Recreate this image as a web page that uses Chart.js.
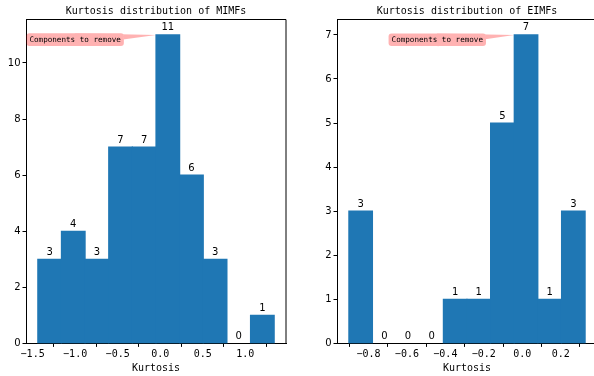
<!DOCTYPE html>
<html>
<head>
<meta charset="utf-8">
<script src="https://cdn.jsdelivr.net/npm/chart.js@4/dist/chart.umd.min.js"></script>
<style>
  html, body { margin: 0; padding: 0; background: #fff; overflow: hidden; }
  #wrap { position: relative; width: 594px; height: 376px; overflow: hidden; }
  canvas { position: absolute; top: 0; }
</style>
</head>
<body>
<div id="wrap">
  <canvas id="mimf" width="297" height="376" style="left:0"></canvas>
  <canvas id="eimf" width="320" height="376" style="left:297px"></canvas>
</div>
<script>
// Histogram of kurtosis values for the MIMF components
const mimfEdges = [-1.439, -1.161, -0.883, -0.605, -0.327, -0.049, 0.229, 0.507, 0.785, 1.063, 1.341];
const mimfCounts = [3, 4, 3, 7, 7, 11, 6, 3, 0, 1];
const mimfXTicks = [-1.5, -1.0, -0.5, 0.0, 0.5, 1.0];
const mimfYTicks = [0, 2, 4, 6, 8, 10];

// Histogram of kurtosis values for the EIMF components
const eimfEdges = [-0.902, -0.779, -0.656, -0.533, -0.410, -0.288, -0.165, -0.042, 0.081, 0.204, 0.327];
const eimfCounts = [3, 0, 0, 0, 1, 1, 5, 7, 1, 3];
const eimfXTicks = [-0.8, -0.6, -0.4, -0.2, 0.0, 0.2];
const eimfYTicks = [0, 1, 2, 3, 4, 5, 6, 7];

const titles = ['Kurtosis distribution of MIMFs', 'Kurtosis distribution of EIMFs'];
const xLabel = 'Kurtosis';
const noteText = 'Components to remove';

const MONO = '"DejaVu Sans Mono", "Liberation Mono", monospace';
const SANS = '"DejaVu Sans", "Liberation Sans", sans-serif';
const BAR = '#1f77b4';

function fmtTick(v) {
  const s = Math.abs(v).toFixed(1);
  return (v < 0 ? '\u2212' : '') + s;
}

function roundRectPath(ctx, x, y, w, h, r) {
  ctx.moveTo(x + r, y);
  ctx.lineTo(x + w - r, y);
  ctx.arcTo(x + w, y, x + w, y + r, r);
  ctx.lineTo(x + w, y + h - r);
  ctx.arcTo(x + w, y + h, x + w - r, y + h, r);
  ctx.lineTo(x + r, y + h);
  ctx.arcTo(x, y + h, x, y + h - r, r);
  ctx.lineTo(x, y + r);
  ctx.arcTo(x, y, x + r, y, r);
  ctx.closePath();
}

function makeHist(canvasId, edges, counts, xTicks, yTicks, xRange, yMax, padRight, yWidth, title, note) {
  const points = counts.map((c, i) => ({ x: (edges[i] + edges[i + 1]) / 2, y: c }));
  const peak = counts.indexOf(Math.max(...counts));

  const decorations = {
    id: 'decorations',
    afterDatasetsDraw(chart) {
      const ctx = chart.ctx;
      const meta = chart.getDatasetMeta(0);
      ctx.save();
      ctx.fillStyle = '#000';
      ctx.font = '10px ' + SANS;
      ctx.textAlign = 'center';
      ctx.textBaseline = 'alphabetic';
      meta.data.forEach((el, i) => {
        ctx.fillText(String(counts[i]), el.x, el.y - 4.5);
      });
      ctx.restore();
    },
    afterDraw(chart) {
      const ctx = chart.ctx;
      const a = chart.chartArea;
      const xs = chart.scales.x, ys = chart.scales.y;
      ctx.save();
      // top and right spines
      ctx.strokeStyle = '#000';
      ctx.lineWidth = 1;
      ctx.beginPath();
      ctx.moveTo(a.left, a.top);
      ctx.lineTo(a.right, a.top);
      ctx.lineTo(a.right, a.bottom);
      ctx.stroke();

      // title and axis label
      const cx = (a.left + a.right) / 2;
      ctx.fillStyle = '#000';
      ctx.textAlign = 'center';
      ctx.textBaseline = 'alphabetic';
      ctx.font = '10px ' + MONO;
      ctx.fillText(title, cx, 13.5);
      ctx.fillText(xLabel, cx, 371);

      // annotation: pink box with a wedge pointing at the tallest bin
      ctx.font = '7.6px ' + MONO;
      const tw = ctx.measureText(noteText).width;
      const bx = xs.getPixelForValue(note.x), by = ys.getPixelForValue(note.y);
      const bw = tw + 6, bh = 12.7;
      const left = bx - bw / 2, top = by - bh / 2;
      const tipX = xs.getPixelForValue(edges[peak]);
      const tipY = ys.getPixelForValue(counts[peak]);
      const dx = tipX - bx, dy = tipY - by;
      const len = Math.hypot(dx, dy);
      const nx = -dy / len, ny = dx / len, hw = 6.4;

      ctx.save();
      ctx.beginPath();
      ctx.rect(0, 0, chart.width, chart.height);
      roundRectPath(ctx, left, top, bw, bh, 3);
      ctx.clip('evenodd');
      ctx.fillStyle = 'rgba(255, 0, 0, 0.3)';
      ctx.beginPath();
      ctx.moveTo(bx + nx * hw, by + ny * hw);
      ctx.lineTo(tipX, tipY);
      ctx.lineTo(bx - nx * hw, by - ny * hw);
      ctx.closePath();
      ctx.fill();
      ctx.restore();

      ctx.fillStyle = 'rgba(255, 0, 0, 0.3)';
      ctx.beginPath();
      roundRectPath(ctx, left, top, bw, bh, 3);
      ctx.fill();
      ctx.fillStyle = '#000';
      ctx.textAlign = 'center';
      ctx.textBaseline = 'middle';
      ctx.fillText(noteText, bx, by + 0.5);
      ctx.restore();
    }
  };

  return new Chart(document.getElementById(canvasId), {
    type: 'bar',
    data: {
      datasets: [{
        data: points,
        backgroundColor: BAR,
        borderWidth: 0,
        barPercentage: 1,
        categoryPercentage: 1,
        inflateAmount: (c) => (c.raw && c.raw.y === 0 ? 0 : 0.6)
      }]
    },
    options: {
      responsive: false,
      devicePixelRatio: 1,
      animation: false,
      events: [],
      layout: { padding: { left: 0, right: padRight, top: 19.5, bottom: 0 } },
      plugins: { legend: { display: false }, title: { display: false }, tooltip: { enabled: false } },
      scales: {
        x: {
          type: 'linear',
          min: xRange[0],
          max: xRange[1],
          offset: false,
          afterBuildTicks: (s) => { s.ticks = xTicks.map(v => ({ value: v })); },
          afterFit: (s) => { s.height = 376 - 343.4; },
          grid: { display: true, drawOnChartArea: false, drawTicks: true, tickLength: 3.5, tickColor: '#000', tickWidth: 1 },
          border: { display: true, color: '#000', width: 1 },
          ticks: {
            autoSkip: false, maxRotation: 0, padding: 2, color: '#000',
            font: { family: MONO, size: 10 },
            callback: (v) => fmtTick(v)
          }
        },
        y: {
          type: 'linear',
          min: 0,
          max: yMax,
          afterBuildTicks: (s) => { s.ticks = yTicks.map(v => ({ value: v })); },
          afterFit: (s) => { s.width = yWidth; },
          grid: { display: true, drawOnChartArea: false, drawTicks: true, tickLength: 3.5, tickColor: '#000', tickWidth: 1 },
          border: { display: true, color: '#000', width: 1 },
          ticks: {
            padding: 2, color: '#000',
            font: { family: SANS, size: 10 },
            callback: (v) => String(v)
          }
        }
      }
    },
    plugins: [decorations]
  });
}

makeHist('mimf', mimfEdges, mimfCounts, mimfXTicks, mimfYTicks,
  [-1.578, 1.480], 11.55, 11, 26, titles[0], { x: -1.0, y: 10.83 });
makeHist('eimf', eimfEdges, eimfCounts, eimfXTicks, eimfYTicks,
  [-0.9635, 0.3885], 7.35, 20, 40, titles[1], { x: -0.442, y: 6.89 });
</script>
</body>
</html>
